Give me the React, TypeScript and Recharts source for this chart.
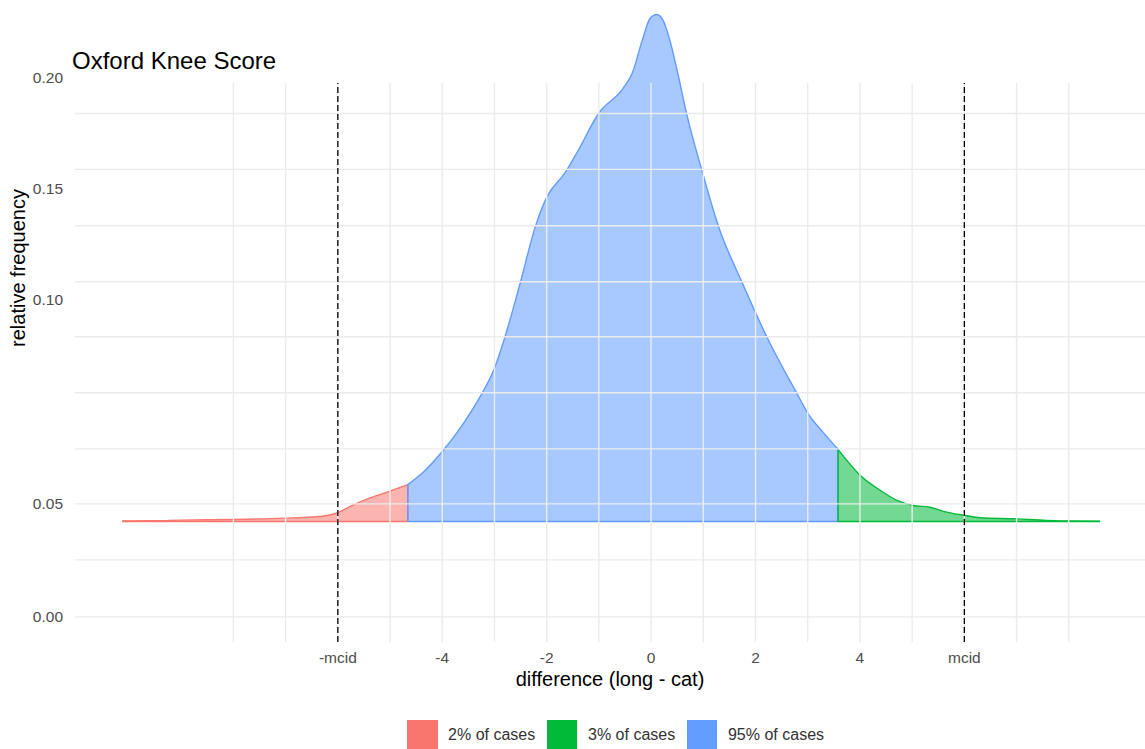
import React from 'react';
import { ComposedChart, Area, XAxis, YAxis, ReferenceLine, Label } from 'recharts';

// density of the difference (long - cat)
const diffX = [
  -10.13, -9.5, -9, -8, -7, -6.5, -6.2, -6, -5.7, -5.3, -5, -4.66, -4.33, -4, -3.6, -3.28, -3,
  -2.8, -2.5, -2.22, -2, -1.65, -1.4, -1, -0.54, -0.36, -0.17, -0.02, 0.11, 0.23, 0.36, 0.52,
  0.68, 0.97, 1.29, 1.74, 2.22, 2.79, 3.01, 3.3, 3.58, 4.04, 4.39, 4.71, 5.02, 5.34, 5.66,
  6.02, 6.3, 6.94, 7.58, 8.03, 8.6,
];
const relFreq = [
  0.0002, 0.0003, 0.0006, 0.0009, 0.0015, 0.002, 0.0027, 0.004, 0.0075, 0.0113, 0.0137, 0.0166,
  0.023, 0.0315, 0.044, 0.056, 0.069, 0.083, 0.108, 0.1326, 0.146, 0.157, 0.167, 0.184, 0.195,
  0.202, 0.2167, 0.2266, 0.2284, 0.2257, 0.2167, 0.201, 0.1837, 0.1584, 0.133, 0.1078, 0.083,
  0.0578, 0.0485, 0.04, 0.0325, 0.02, 0.014, 0.0095, 0.0072, 0.0064, 0.0042, 0.0027, 0.0017,
  0.0012, 0.0005, 0.0002, 0.0001,
];

const lowerCut = -4.66;
const upperCut = 3.58;
const mcid = 6;

const groupKeys = ['low', 'mid', 'high'];
const groupLabels = ['2% of cases', '3% of cases', '95% of cases'];
const groupColors = ['#F8766D', '#00BA38', '#619CFF'];
// key -> legend index (legend is ordered red, green, blue)
const groupLegendIdx = { low: 0, high: 1, mid: 2 };

const xTicks = [-6, -4, -2, 0, 2, 4, 6];
const xTickLabels = ['-mcid', '-4', '-2', '0', '2', '4', 'mcid'];
const xGrid = [-8, -7, -6, -5, -4, -3, -2, -1, 0, 1, 2, 3, 4, 5, 6, 7, 8];

const yTicks = [-0.043, 0.0079, 0.1, 0.15, 0.2];
const yTickLabels = ['0.00', '0.05', '0.10', '0.15', '0.20'];
const yGrid = [-0.043, -0.0173, 0.0079, 0.0327, 0.058, 0.0832, 0.108, 0.1332, 0.1586, 0.1838];

const xDomain = [-11.034, 9.46];
const yDomain = [-0.0543, 0.2349];
const gridTop = 0.1975;

const data = diffX.map((x, i) => ({
  x,
  low: x <= lowerCut ? relFreq[i] : null,
  mid: x >= lowerCut && x <= upperCut ? relFreq[i] : null,
  high: x >= upperCut ? relFreq[i] : null,
}));

const colorOf = (key: string) => groupColors[groupLegendIdx[key]];

const lowIdx = diffX.indexOf(lowerCut);
const highIdx = diffX.indexOf(upperCut);
const edges = [
  { key: 'low', from: diffX[0], to: lowerCut, cuts: [lowIdx] },
  { key: 'mid', from: lowerCut, to: upperCut, cuts: [lowIdx, highIdx] },
  { key: 'high', from: upperCut, to: diffX[diffX.length - 1], cuts: [highIdx] },
];

const font = '"Liberation Sans", Arial, Helvetica, sans-serif';
const gridColor = '#ebebeb';

export default function App() {
  return (
    <div
      style={{
        position: 'absolute',
        left: 0,
        top: 0,
        width: 1145,
        height: 749,
        background: '#fff',
        fontFamily: font,
        overflow: 'hidden',
      }}
    >
      <ComposedChart
        width={1145}
        height={749}
        data={data}
        margin={{ top: 0, right: 0, left: 0, bottom: 33 }}
      >
        <XAxis
          dataKey="x"
          type="number"
          domain={xDomain}
          allowDataOverflow
          ticks={xTicks}
          tickFormatter={(v) => xTickLabels[xTicks.indexOf(v)]}
          axisLine={false}
          tickLine={false}
          tickSize={0}
          tickMargin={10}
          height={74}
          tick={{ fill: '#4d4d4d', fontSize: 15.5 }}
        >
          <Label value="difference (long - cat)" position="center" fill="#000" fontSize={20} />
        </XAxis>
        <YAxis
          type="number"
          domain={yDomain}
          allowDataOverflow
          ticks={yTicks}
          tickFormatter={(v) => yTickLabels[yTicks.indexOf(v)]}
          axisLine={false}
          tickLine={false}
          tickSize={0}
          tickMargin={12}
          width={75}
          tick={{ fill: '#4d4d4d', fontSize: 15.5 }}
        />

        {groupKeys.map((k) => (
          <Area
            key={k}
            dataKey={k}
            type="monotone"
            baseValue={0}
            stroke={colorOf(k)}
            strokeWidth={1.4}
            fill={colorOf(k)}
            fillOpacity={0.55}
            isAnimationActive={false}
            dot={false}
            activeDot={false}
          />
        ))}

        {/* outline: baseline and vertical cut edges */}
        {edges.map((e) => (
          <ReferenceLine
            key={'base-' + e.key}
            segment={[{ x: e.from, y: 0 }, { x: e.to, y: 0 }]}
            stroke={colorOf(e.key)}
            strokeWidth={1.6}
            ifOverflow="visible"
          />
        ))}
        {edges.flatMap((e) =>
          e.cuts.map((ci) => (
            <ReferenceLine
              key={'edge-' + e.key + ci}
              segment={[{ x: diffX[ci], y: 0 }, { x: diffX[ci], y: relFreq[ci] }]}
              stroke={colorOf(e.key)}
              strokeWidth={1.4}
              ifOverflow="visible"
            />
          ))
        )}

        {/* grid drawn over the densities */}
        {yGrid.map((v) => (
          <ReferenceLine key={'gy' + v} y={v} stroke={gridColor} strokeWidth={1.4} ifOverflow="visible" />
        ))}
        {xGrid.map((v) => (
          <ReferenceLine
            key={'gx' + v}
            segment={[{ x: v, y: yDomain[0] }, { x: v, y: gridTop }]}
            stroke={gridColor}
            strokeWidth={1.4}
            ifOverflow="visible"
          />
        ))}

        {[-mcid, mcid].map((v) => (
          <ReferenceLine
            key={'mcid' + v}
            segment={[{ x: v, y: yDomain[0] }, { x: v, y: gridTop }]}
            stroke="#000"
            strokeWidth={1.3}
            strokeDasharray="6 3"
            ifOverflow="visible"
          />
        ))}
      </ComposedChart>

      <div
        style={{
          position: 'absolute',
          left: 72,
          top: 49,
          fontSize: 24,
          lineHeight: '24px',
          color: '#000',
          whiteSpace: 'nowrap',
        }}
      >
        Oxford Knee Score
      </div>
      <div
        style={{
          position: 'absolute',
          left: 17.5,
          top: 267.5,
          transform: 'translate(-50%, -50%) rotate(-90deg)',
          fontSize: 20,
          lineHeight: '20px',
          color: '#000',
          whiteSpace: 'nowrap',
        }}
      >
        relative frequency
      </div>

      <div
        style={{
          position: 'absolute',
          left: 407,
          top: 720,
          display: 'flex',
          alignItems: 'center',
          fontSize: 16,
          color: '#333',
        }}
      >
        {groupLabels.map((lab, i) => (
          <div key={lab} style={{ display: 'flex', alignItems: 'center', marginRight: 11.7 }}>
            <div style={{ width: 30.5, height: 30, background: groupColors[i] }} />
            <span style={{ marginLeft: 10.6, whiteSpace: 'nowrap' }}>{lab}</span>
          </div>
        ))}
      </div>
    </div>
  );
}
